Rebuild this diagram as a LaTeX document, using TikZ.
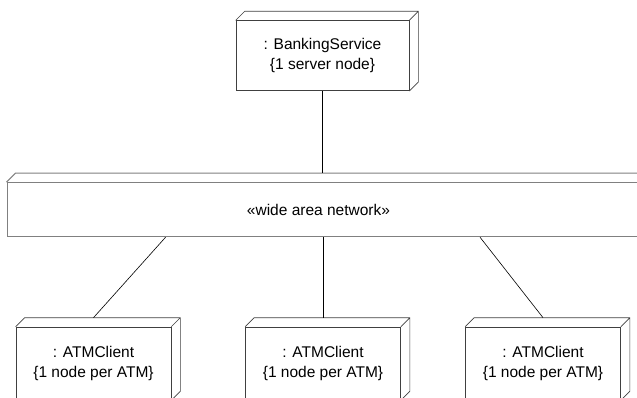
\documentclass[tikz,border=0pt]{standalone}
\usepackage{fontspec}
\setmainfont{Liberation Sans}
\usetikzlibrary{calc}

\tikzset{
  devnode/.style={draw=black!75,line width=0.7pt,inner sep=0pt,align=center,
    font=\fontsize{15.5}{20.5}\selectfont},
  depth/.style={draw=black!75,line width=0.7pt},
  link/.style={draw=black,line width=0.6pt}
}

\begin{document}
\begin{tikzpicture}[x=1pt,y=1pt]
  \useasboundingbox (0,0) rectangle (637,397);
  \clip (0,0) rectangle (637,397);
  % device nodes
  \node[devnode,minimum width=173,minimum height=70] (bank) at (322.5,341.3)
    {: BankingService\\{\{}1 server node{\}}};
  \node[devnode,draw=black!50,line width=1pt,minimum width=640,minimum height=54] (wan) at (327,187.3) {};
  \node[font=\fontsize{15.5}{20.5}\selectfont] (wantext) at (318.5,187.5) {«wide area network»};
  \node[devnode,minimum width=155,minimum height=73] (atm1) at (93.5,33.5)
    {: ATMClient\\{\{}1 node per ATM{\}}};
  \node[devnode,minimum width=155,minimum height=73] (atm2) at (323,33.5)
    {: ATMClient\\{\{}1 node per ATM{\}}};
  \node[devnode,minimum width=155,minimum height=73] (atm3) at (543,33.5)
    {: ATMClient\\{\{}1 node per ATM{\}}};
  % 3d faces
  \foreach \n in {bank,atm1,atm2,atm3}
    \draw[depth] (\n.north west) -- ++(9,9) -| ([shift={(9,9)}]\n.south east) -- (\n.south east)
      (\n.north east) -- ++(9,9);
  \draw[depth,draw=black!50,line width=1pt] (wan.north west) -- ++(9,9) -| ([shift={(9,9)}]wan.south east);
  % links
  \coordinate (wantop) at ($(wan.north)+(0,9)$);
  \draw[link] (bank.south) -- (bank.south |- wantop);
  \draw[link] (165.6,0 |- wan.south) -- ([yshift=9]atm1.north);
  \draw[link] (atm2.north |- wan.south) -- ([yshift=9]atm2.north);
  \draw[link] (480,0 |- wan.south) -- ([yshift=9]atm3.north);
\end{tikzpicture}
\end{document}
